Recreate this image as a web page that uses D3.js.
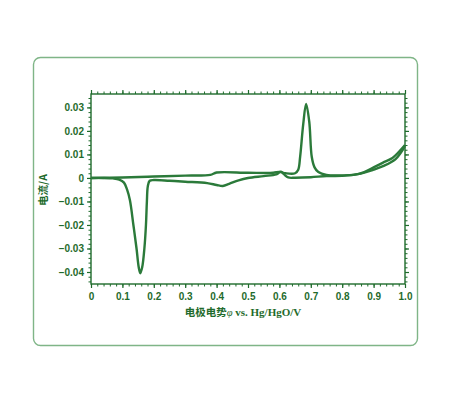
<!DOCTYPE html>
<html>
<head>
<meta charset="utf-8">
<script src="https://cdn.jsdelivr.net/npm/d3@7"></script>
<style>
  body { margin: 0; background: #fff; }
  .tick text { font-family: "Liberation Sans", Arial, sans-serif; font-weight: bold; font-size: 10px; fill: #1f6b2c; }
</style>
</head>
<body>
<div id="chart-container"></div>
<script>
// Anodic sweep (0 -> 1 V)
const anodicX = [0, 0.1, 0.2, 0.3, 0.38, 0.4, 0.5, 0.58, 0.6, 0.62, 0.65, 0.66, 0.666, 0.676, 0.685, 0.695, 0.703, 0.712, 0.724, 0.75, 0.8, 0.835, 0.87, 0.9, 0.93, 0.96, 0.98, 1.0];
const anodicY = [0, 0.0002, 0.0006, 0.001, 0.0013, 0.0023, 0.0022, 0.0022, 0.0026, 0.002, 0.002, 0.0035, 0.009, 0.023, 0.0315, 0.024, 0.009, 0.0045, 0.0025, 0.0013, 0.0011, 0.0013, 0.0025, 0.0045, 0.0065, 0.0085, 0.011, 0.014];

// Cathodic sweep (1 -> 0 V)
const cathodicX = [1.0, 0.97, 0.93, 0.9, 0.85, 0.8, 0.75, 0.7, 0.65, 0.628, 0.615, 0.605, 0.59, 0.55, 0.5, 0.47, 0.44, 0.42, 0.4, 0.37, 0.3, 0.25, 0.2, 0.187, 0.181, 0.178, 0.175, 0.17, 0.163, 0.157, 0.152, 0.145, 0.135, 0.124, 0.115, 0.105, 0.09, 0.07, 0.04, 0];
const cathodicY = [0.0135, 0.008, 0.005, 0.0035, 0.0016, 0.0009, 0.0008, 0.0003, 0.0001, 0.0002, 0.0015, 0.0027, 0.0015, 0.0008, 0, -0.001, -0.0025, -0.0034, -0.003, -0.0022, -0.0016, -0.0012, -0.0009, -0.0012, -0.0035, -0.01, -0.02, -0.03, -0.038, -0.0405, -0.038, -0.03, -0.02, -0.0095, -0.005, -0.002, -0.0007, -0.0002, 0, 0];

const xTicks = [0, 0.1, 0.2, 0.3, 0.4, 0.5, 0.6, 0.7, 0.8, 0.9, 1.0];
const xTickLabels = ["0", "0.1", "0.2", "0.3", "0.4", "0.5", "0.6", "0.7", "0.8", "0.9", "1.0"];
const yTicks = [0.03, 0.02, 0.01, 0, -0.01, -0.02, -0.03, -0.04];
const yTickLabels = ["0.03", "0.02", "0.01", "0", "\u22120.01", "\u22120.02", "\u22120.03", "\u22120.04"];

const W = 450, H = 403;
const plot = { left: 91, right: 405, top: 94, bottom: 284 };
const lineColor = "#2b7a3a";
const axisColor = "#1f6b2c";

const svg = d3.select("#chart-container")
  .append("svg")
  .attr("width", W)
  .attr("height", H);

// card frame
svg.append("rect")
  .attr("x", 33.5)
  .attr("y", 57.5)
  .attr("width", 384)
  .attr("height", 288)
  .attr("rx", 7)
  .attr("fill", "#fff")
  .attr("stroke", "#7fb587")
  .attr("stroke-width", 1.4);

const xScale = d3.scaleLinear().domain([0, 1]).range([plot.left, plot.right]);
const yScale = d3.scaleLinear().domain([-0.0451, 0.0357]).range([plot.bottom, plot.top]);

// minor ticks on all sides
const xMinor = d3.range(0, 1.0001, 0.02);
const yMinor = d3.range(-0.044, 0.0356, 0.002);

function minor(axis, transform) {
  svg.append("g")
    .attr("transform", transform)
    .call(axis.tickSize(2.5).tickFormat(""))
    .call(g => g.select(".domain").remove())
    .selectAll("line").attr("stroke", axisColor);
}
minor(d3.axisBottom(xScale).tickValues(xMinor), `translate(0,${plot.bottom})`);
minor(d3.axisTop(xScale).tickValues(xMinor), `translate(0,${plot.top})`);
minor(d3.axisLeft(yScale).tickValues(yMinor), `translate(${plot.left},0)`);
minor(d3.axisRight(yScale).tickValues(yMinor), `translate(${plot.right},0)`);

// major axes
const xAxis = svg.append("g")
  .attr("transform", `translate(0,${plot.bottom})`)
  .call(d3.axisBottom(xScale).tickValues(xTicks).tickSize(4).tickPadding(5)
    .tickFormat((d, i) => xTickLabels[i]));
const xTop = svg.append("g")
  .attr("transform", `translate(0,${plot.top})`)
  .call(d3.axisTop(xScale).tickValues(xTicks).tickSize(4).tickFormat(""));
const yAxis = svg.append("g")
  .attr("transform", `translate(${plot.left},0)`)
  .call(d3.axisLeft(yScale).tickValues(yTicks).tickSize(4).tickPadding(3)
    .tickFormat((d, i) => yTickLabels[i]));
const yRight = svg.append("g")
  .attr("transform", `translate(${plot.right},0)`)
  .call(d3.axisRight(yScale).tickValues(yTicks).tickSize(4).tickFormat(""));

[xAxis, xTop, yAxis, yRight].forEach(g => {
  g.select(".domain").remove();
  g.selectAll("line").attr("stroke", axisColor).attr("stroke-width", 1.2);
});

// plot frame
svg.append("rect")
  .attr("x", plot.left)
  .attr("y", plot.top)
  .attr("width", plot.right - plot.left)
  .attr("height", plot.bottom - plot.top)
  .attr("fill", "none")
  .attr("stroke", axisColor)
  .attr("stroke-width", 1.4);

const lineGen = d3.line()
  .x(d => xScale(d[0]))
  .y(d => yScale(d[1]))
  .curve(d3.curveCatmullRom.alpha(0.5));

const anodic = anodicX.map((x, i) => [x, anodicY[i]]);
const cathodic = cathodicX.map((x, i) => [x, cathodicY[i]]);

[anodic, cathodic].forEach(series => {
  svg.append("path")
    .datum(series)
    .attr("d", lineGen)
    .attr("fill", "none")
    .attr("stroke", lineColor)
    .attr("stroke-width", 2.4)
    .attr("stroke-linejoin", "round");
});

// axis titles
const xTitle = svg.append("text")
  .attr("x", 243)
  .attr("y", 316)
  .attr("text-anchor", "middle")
  .attr("font-weight", "bold")
  .attr("font-size", "10.5px")
  .attr("fill", axisColor);
xTitle.append("tspan")
  .attr("font-family", "'Noto Sans CJK SC', sans-serif")
  .text("电极电势");
xTitle.append("tspan")
  .attr("font-family", "'Liberation Serif', serif")
  .attr("font-style", "italic")
  .attr("font-weight", "normal")
  .text("\u03c6");
xTitle.append("tspan")
  .attr("font-family", "'Liberation Serif', serif")
  .attr("font-size", "11px")
  .text(" vs. Hg/HgO/V");

svg.append("text")
  .attr("transform", "translate(47,190) rotate(-90)")
  .attr("text-anchor", "middle")
  .attr("font-family", "'Noto Sans CJK SC', 'Liberation Sans', sans-serif")
  .attr("font-weight", "bold")
  .attr("font-size", "10.5px")
  .attr("fill", axisColor)
  .text("电流/A");
</script>
</body>
</html>
